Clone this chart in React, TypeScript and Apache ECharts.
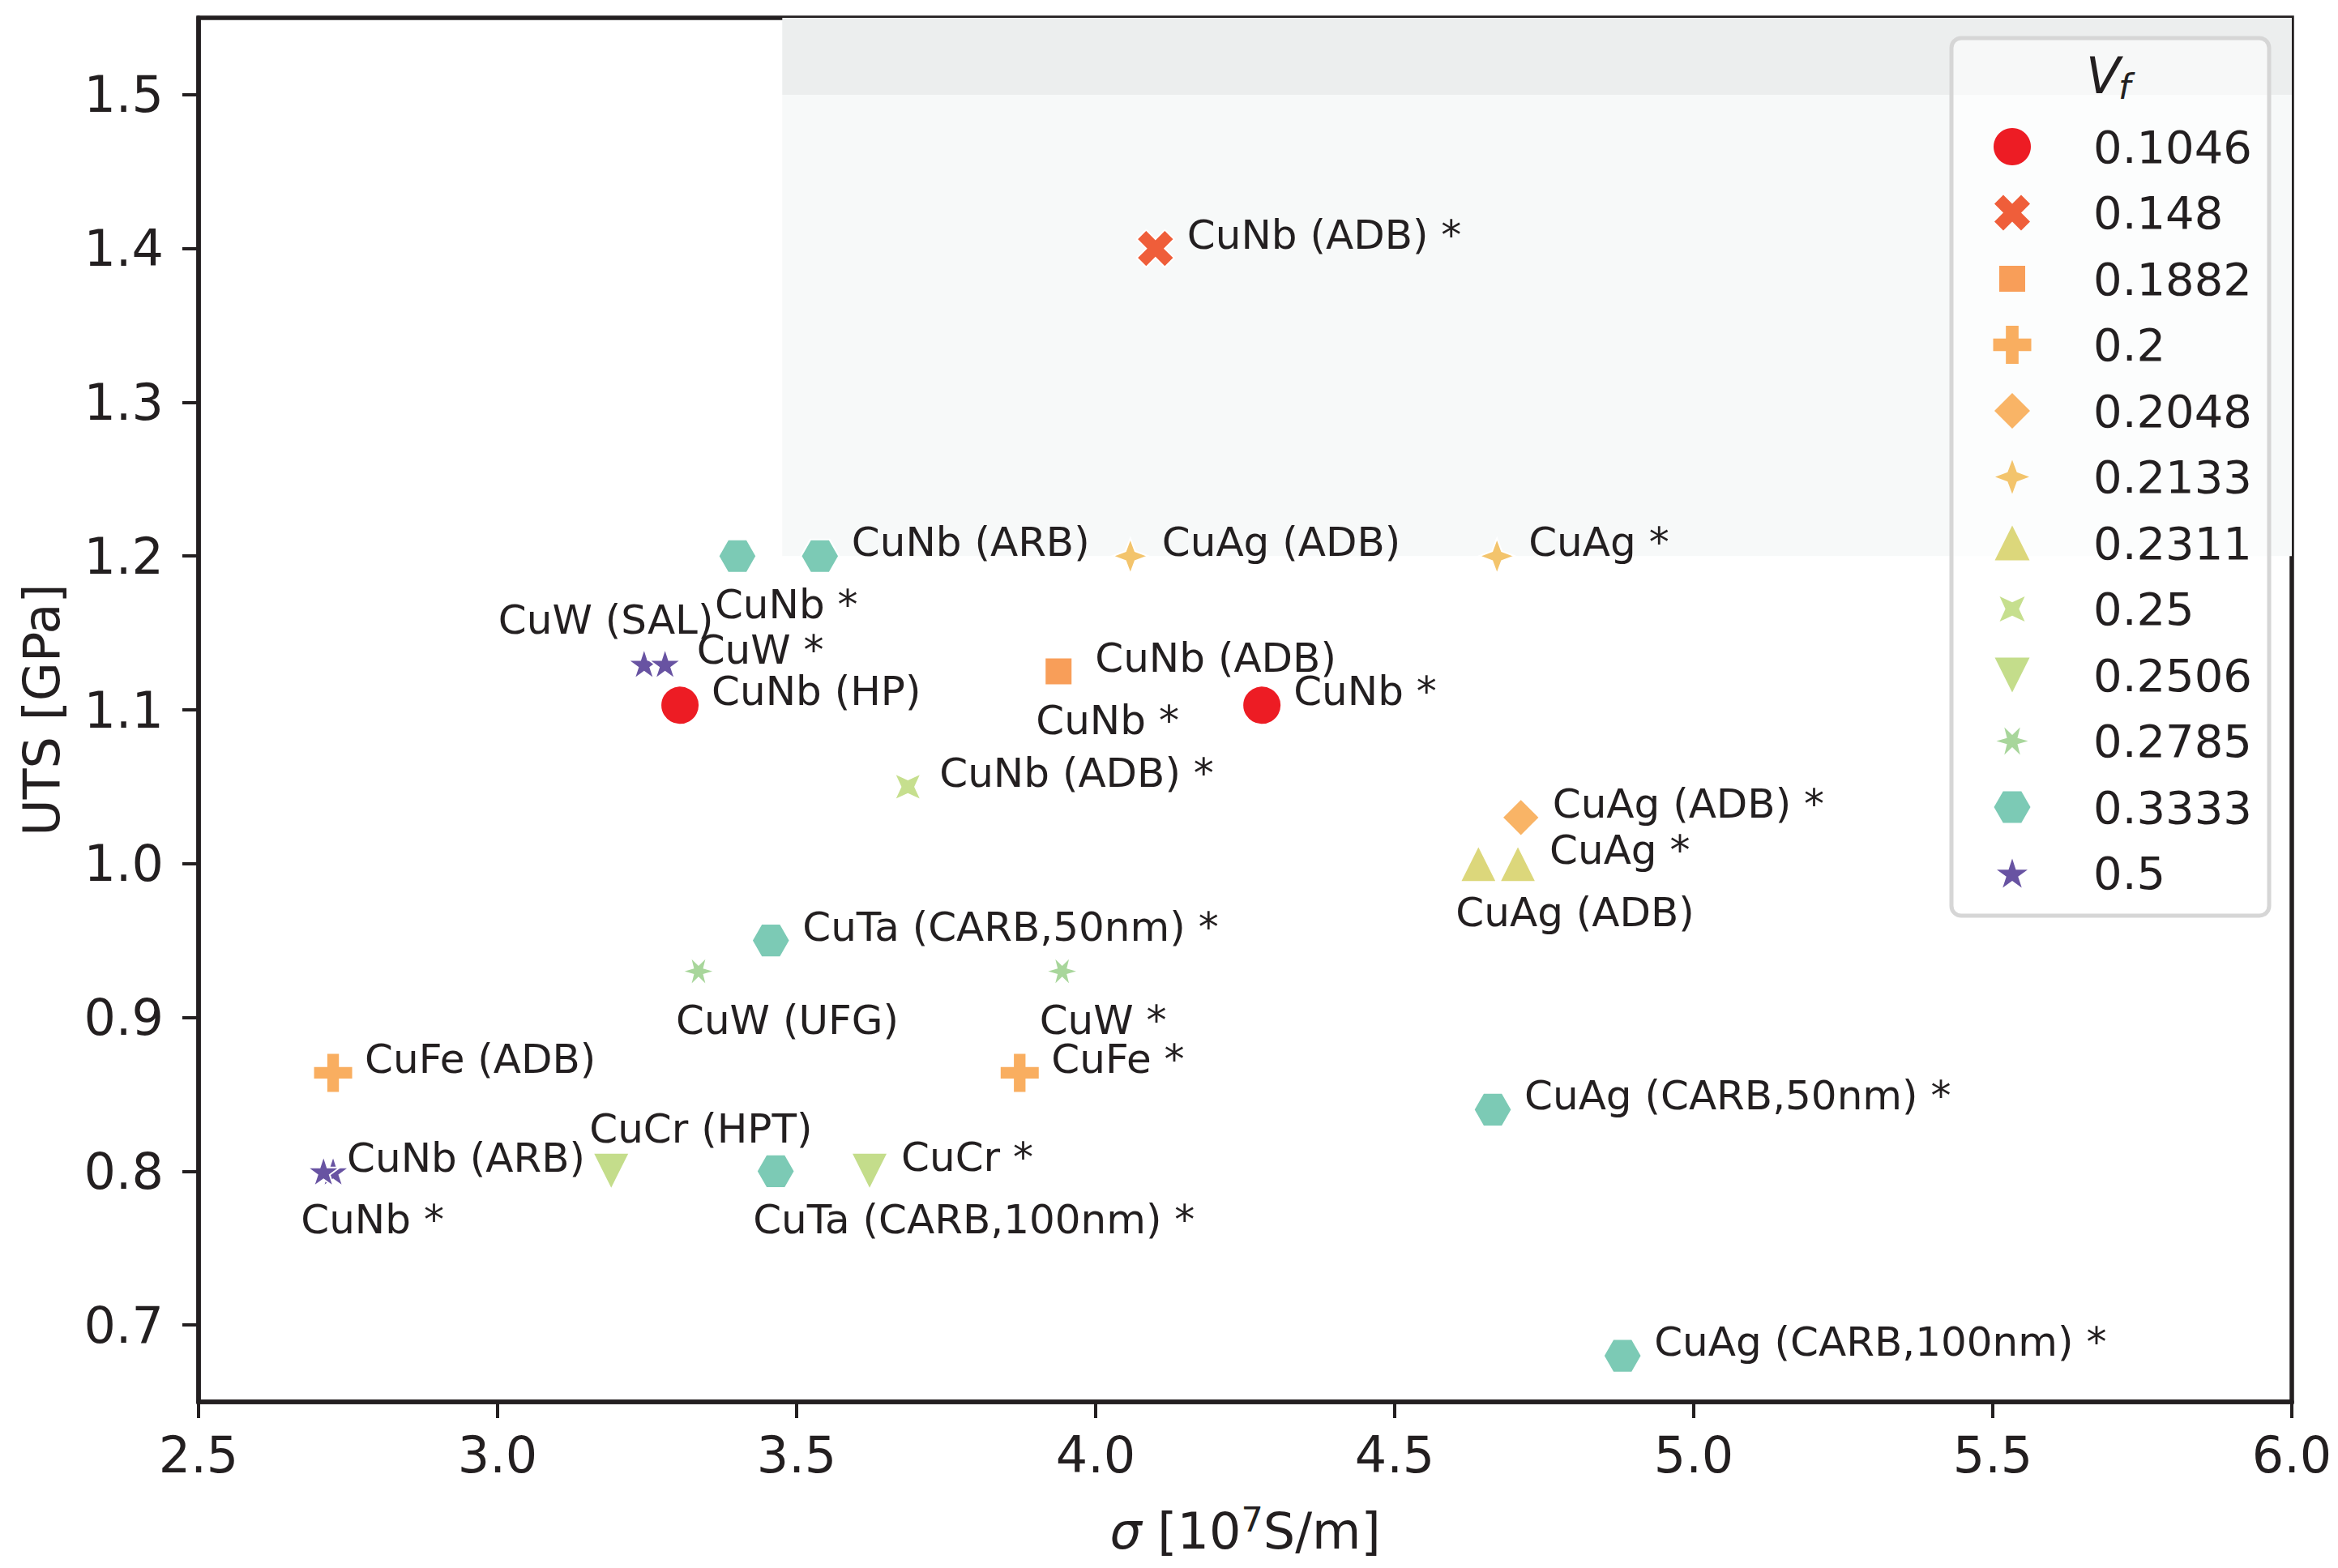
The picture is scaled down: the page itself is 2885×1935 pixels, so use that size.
import React, { useEffect, useRef } from 'react';
import * as echarts from 'echarts';

// Volume fraction levels (hue / marker groups)
const VF_LEVELS = ['0.1046', '0.148', '0.1882', '0.2', '0.2048', '0.2133', '0.2311', '0.25', '0.2506', '0.2785', '0.3333', '0.5'];
const VF_COLORS = ['#ED1C24', '#EF5E3A', '#F89E59', '#F9AE60', '#F9B466', '#F3C46C', '#DCD77B', '#C6DF8E', '#C4DD8B', '#A8D69B', '#7CCAB5', '#6853A2'];
const VF_MARKERS = ['circle', 'x', 'square', 'plus', 'diamond', 'star4', 'triUp', 'star4x', 'triDown', 'star6', 'hexagon', 'star5'];

// Samples
const SAMPLE_LABELS = [
  'CuNb (HP)', 'CuNb *', 'CuNb (ADB) *', 'CuNb *', 'CuNb (ADB)', 'CuFe (ADB)', 'CuFe *',
  'CuAg (ADB) *', 'CuAg (ADB)', 'CuAg *', 'CuAg (ADB)', 'CuAg *', 'CuNb (ADB) *',
  'CuCr (HPT)', 'CuCr *', 'CuW (UFG)', 'CuW *', 'CuNb *', 'CuNb (ARB)',
  'CuTa (CARB,50nm) *', 'CuTa (CARB,100nm) *', 'CuAg (CARB,50nm) *', 'CuAg (CARB,100nm) *',
  'CuW (SAL)', 'CuW *', 'CuNb (ARB)', 'CuNb *',
];
const SIGMA_VALUES = [
  3.305, 4.278, 4.10, 3.938, 3.938, 2.725, 3.873,
  4.711, 4.058, 4.671, 4.640, 4.706, 3.686,
  3.19, 3.622, 3.336, 3.944, 3.401, 3.539,
  3.457, 3.465, 4.664, 4.881,
  3.245, 3.28, 2.725, 2.709,
];
const UTS_VALUES = [
  1.103, 1.103, 1.40, 1.125, 1.125, 0.864, 0.864,
  1.03, 1.20, 1.20, 1.00, 1.00, 1.05,
  0.80, 0.80, 0.93, 0.93, 1.20, 1.20,
  0.95, 0.80, 0.84, 0.68,
  1.13, 1.13, 0.80, 0.80,
];
const SAMPLE_VF = [
  '0.1046', '0.1046', '0.148', '0.1882', '0.1882', '0.2', '0.2',
  '0.2048', '0.2133', '0.2133', '0.2311', '0.2311', '0.25',
  '0.2506', '0.2506', '0.2785', '0.2785', '0.3333', '0.3333',
  '0.3333', '0.3333', '0.3333', '0.3333',
  '0.5', '0.5', '0.5', '0.5',
];

const Y_TICKS = [0.7, 0.8, 0.9, 1.0, 1.1, 1.2, 1.3, 1.4, 1.5];

// shaded target region
const SHADE_X0 = 3.476;
const SHADE_Y0 = 1.2;
const SHADE_Y1 = 1.5;

// label placement (px from marker centre to text left/middle)
const R: [number, number] = [39, -17];
const B: [number, number] = [-28, 60];
const A: [number, number] = [-27, -52];
const LABEL_OFFSETS: [number, number][] = [
  R, R, R, B, [45, -17], R, R,
  R, R, R, B, R, R,
  A, R, B, B, B, R,
  R, B, R, R,
  [-180, -54], R, [17, -16], B,
];

const TEXT = '#231f20';
const FONT = 'DejaVu Sans';
const EDGE = 2;

const MARKER_SHAPES: Record<string, { pts: number[][] | null; size: [number, number] }> = {
  circle: { pts: null, size: [46, 46] },
  x: { pts: [[-1, -2], [0, -1], [1, -2], [2, -1], [1, 0], [2, 1], [1, 2], [0, 1], [-1, 2], [-2, 1], [-1, 0], [-2, -1]], size: [44, 44] },
  square: { pts: [[-1, -1], [1, -1], [1, 1], [-1, 1]], size: [32, 32] },
  plus: { pts: [[-1, -3], [1, -3], [1, -1], [3, -1], [3, 1], [1, 1], [1, 3], [-1, 3], [-1, 1], [-3, 1], [-3, -1], [-1, -1]], size: [47, 47] },
  diamond: { pts: [[0, -1], [1, 0], [0, 1], [-1, 0]], size: [44, 44] },
  star4: { pts: [[0, -1], [0.27, -0.27], [1, 0], [0.27, 0.27], [0, 1], [-0.27, 0.27], [-1, 0], [-0.27, -0.27]], size: [42, 42] },
  triUp: { pts: [[0, -1], [1, 1], [-1, 1]], size: [43, 43] },
  star4x: { pts: [[-0.707, -0.707], [0, -0.382], [0.707, -0.707], [0.382, 0], [0.707, 0.707], [0, 0.382], [-0.707, 0.707], [-0.382, 0]], size: [31, 31] },
  triDown: { pts: [[-1, -1], [1, -1], [0, 1]], size: [43, 43] },
  star6: {
    pts: [[1, 0], [0.331, -0.191], [0.5, -0.866], [0, -0.382], [-0.5, -0.866], [-0.331, -0.191], [-1, 0], [-0.331, 0.191], [-0.5, 0.866], [0, 0.382], [0.5, 0.866], [0.331, 0.191]],
    size: [39, 34],
  },
  hexagon: { pts: [[1, 0], [0.5, -0.866], [-0.5, -0.866], [-1, 0], [-0.5, 0.866], [0.5, 0.866]], size: [45, 39] },
  star5: {
    pts: [[0, -1], [0.2245, -0.309], [0.951, -0.309], [0.363, 0.118], [0.588, 0.809], [0, 0.382], [-0.588, 0.809], [-0.363, 0.118], [-0.951, -0.309], [-0.2245, -0.309]],
    size: [38, 36],
  },
};

const toPath = (pts: number[][]) =>
  'path://' + pts.map((p, i) => `${i ? 'L' : 'M'}${p[0]},${p[1]}`).join(' ') + ' Z';

const fitPoints = (pts: number[][], cx: number, cy: number, w: number, h: number) => {
  const xs = pts.map(p => p[0]);
  const ys = pts.map(p => p[1]);
  const x0 = Math.min(...xs), x1 = Math.max(...xs);
  const y0 = Math.min(...ys), y1 = Math.max(...ys);
  return pts.map(p => [
    cx + ((p[0] - (x0 + x1) / 2) / (x1 - x0)) * w,
    cy + ((p[1] - (y0 + y1) / 2) / (y1 - y0)) * h,
  ]);
};

const App: React.FC = () => {
  const chartRef = useRef<HTMLDivElement>(null);

  useEffect(() => {
    if (!chartRef.current) return;
    document.body.style.margin = '0';
    const chart = echarts.init(chartRef.current, null, { renderer: 'svg' });

    const series: any[] = VF_LEVELS.map((lvl, k) => {
      const m = MARKER_SHAPES[VF_MARKERS[k]];
      const data = SAMPLE_VF.map((v, i) => (v === lvl ? i : -1))
        .filter(i => i >= 0)
        .map(i => ({
          name: SAMPLE_LABELS[i],
          value: [SIGMA_VALUES[i], UTS_VALUES[i]],
          label: { offset: LABEL_OFFSETS[i] },
        }));
      return {
        type: 'scatter',
        name: lvl,
        z: 3,
        symbol: m.pts ? toPath(m.pts) : 'circle',
        symbolSize: [m.size[0] + EDGE, m.size[1] + EDGE],
        itemStyle: { color: VF_COLORS[k], borderColor: '#ffffff', borderWidth: EDGE, opacity: 1 },
        label: {
          show: true,
          position: 'inside',
          align: 'left',
          verticalAlign: 'middle',
          formatter: '{b}',
          fontSize: 50,
          fontFamily: FONT,
          color: TEXT,
          textBorderWidth: 0,
        },
        emphasis: { disabled: true },
        data,
      };
    });

    // shaded region
    series.unshift({
      type: 'scatter',
      name: 'region',
      z: 1,
      silent: true,
      data: [],
      markArea: {
        silent: true,
        data: [
          [
            { xAxis: SHADE_X0, yAxis: SHADE_Y0, itemStyle: { color: '#F7F9F9' } },
            { xAxis: 6, yAxis: SHADE_Y1 },
          ],
          [
            { xAxis: SHADE_X0, yAxis: SHADE_Y1, itemStyle: { color: '#ECEEEE' } },
            { xAxis: 6, yAxis: 1.55 },
          ],
        ],
      },
    });

    // legend drawn by hand
    const legendEls: any[] = [
      {
        type: 'rect',
        shape: { x: 2408, y: 47, width: 392, height: 1083, r: 12 },
        style: { fill: 'rgba(255,255,255,0.6)', stroke: '#d6d6d6', lineWidth: 5 },
      },
      {
        type: 'text',
        x: 2574,
        y: 93,
        style: { text: 'V', fontSize: 62, fontStyle: 'italic', fontFamily: FONT, fill: TEXT, verticalAlign: 'middle', align: 'left' },
      },
      {
        type: 'text',
        x: 2614,
        y: 107,
        style: { text: 'f', fontSize: 43, fontStyle: 'italic', fontFamily: FONT, fill: TEXT, verticalAlign: 'middle', align: 'left' },
      },
    ];
    VF_LEVELS.forEach((lvl, k) => {
      const y = 181 + k * 81.5;
      const m = MARKER_SHAPES[VF_MARKERS[k]];
      if (m.pts) {
        legendEls.push({
          type: 'polygon',
          shape: { points: fitPoints(m.pts, 2483, y, m.size[0], m.size[1]) },
          style: { fill: VF_COLORS[k] },
        });
      } else {
        legendEls.push({
          type: 'circle',
          shape: { cx: 2483, cy: y, r: m.size[0] / 2 },
          style: { fill: VF_COLORS[k] },
        });
      }
      legendEls.push({
        type: 'text',
        x: 2583,
        y,
        style: { text: lvl, fontSize: 56, fontFamily: FONT, fill: TEXT, verticalAlign: 'middle', align: 'left' },
      });
    });

    const option: any = {
      animation: false,
      backgroundColor: '#ffffff',
      textStyle: { fontFamily: FONT, color: TEXT },
      grid: {
        left: 245,
        right: 57,
        top: 22,
        bottom: 205,
        show: true,
        borderColor: TEXT,
        borderWidth: 5.5,
        backgroundColor: 'transparent',
      },
      xAxis: {
        type: 'value',
        min: 2.5,
        max: 6,
        interval: 0.5,
        name: '{it|σ} [10{sup|7}S/m]',
        nameLocation: 'middle',
        nameGap: 123,
        nameTextStyle: {
          fontSize: 62,
          fontFamily: FONT,
          color: TEXT,
          lineHeight: 72,
          rich: {
            it: { fontSize: 62, fontStyle: 'italic', fontFamily: FONT, color: TEXT, lineHeight: 72 },
            sup: { fontSize: 43, fontFamily: FONT, color: TEXT, lineHeight: 43, verticalAlign: 'top' },
          },
        },
        axisLine: { show: true, lineStyle: { color: TEXT, width: 5.5 } },
        axisTick: { show: true, length: 20, lineStyle: { color: TEXT, width: 4 } },
        axisLabel: { fontSize: 62, color: TEXT, fontFamily: FONT, margin: 34, formatter: (v: number) => v.toFixed(1) },
        splitLine: { show: false },
      },
      yAxis: {
        type: 'value',
        min: 0.65,
        max: 1.55,
        name: 'UTS [GPa]',
        nameLocation: 'middle',
        nameGap: 163,
        nameTextStyle: { fontSize: 62, fontFamily: FONT, color: TEXT },
        axisLine: { show: true, lineStyle: { color: TEXT, width: 5.5 } },
        axisTick: { show: true, length: 20, lineStyle: { color: TEXT, width: 4 }, customValues: Y_TICKS },
        axisLabel: {
          fontSize: 62,
          color: TEXT,
          fontFamily: FONT,
          margin: 43,
          customValues: Y_TICKS,
          formatter: (v: number) => v.toFixed(1),
        },
        splitLine: { show: false },
      },
      graphic: { elements: legendEls.map(e => ({ ...e, z: 100 })) },
      series,
    };

    chart.setOption(option);

    return () => {
      chart.dispose();
    };
  }, []);

  return <div ref={chartRef} style={{ width: '2885px', height: '1935px' }} />;
};

export default App;
